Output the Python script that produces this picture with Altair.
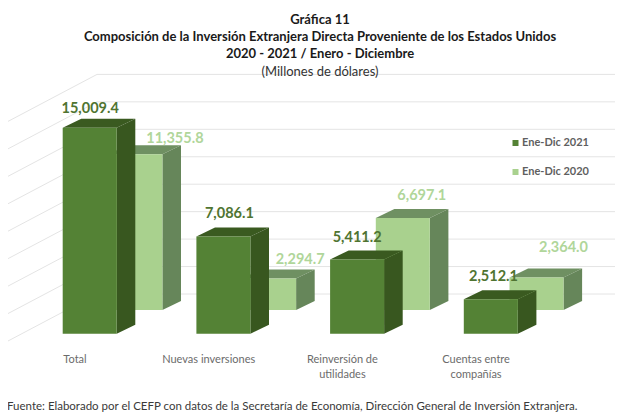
import altair as alt
import pandas as pd

# ---------- data ----------
categories = ["Total", "Nuevas inversiones", "Reinversión de\nutilidades", "Cuentas entre\ncompañías"]
values_2021 = [15009.4, 7086.1, 5411.2, 2512.1]
values_2020 = [11355.8, 2294.7, 6697.1, 2364.0]
series_names = ["Ene-Dic 2021", "Ene-Dic 2020"]
grid_values = [0, 2000, 4000, 6000, 8000, 10000, 12000, 14000, 16000]

title_lines = [
    "Gráfica 11",
    "Composición de la Inversión Extranjera Directa Proveniente de los Estados Unidos",
    "2020 - 2021 / Enero - Diciembre",
]
subtitle_line = "(Millones de dólares)"
footer = "Fuente: Elaborado por el CEFP con datos de la Secretaría de Economía, Dirección General de Inversión Extranjera."

# ---------- layout ----------
W, H, PAD_TOP = 607, 338, 66
PX_PER_STEP = 133.7
PX_PER_VAL = 0.013725
X0_PX = 54.7          # left edge of first dark bar, in canvas px
Y0_PX = 259.7         # baseline of the dark bars, in plot px


def ux(px):
    return px / PX_PER_STEP


def uy(px):
    return px / PX_PER_VAL


x_scale = alt.Scale(domain=[-ux(X0_PX), ux(W - X0_PX)], nice=False, zero=False)
y_scale = alt.Scale(domain=[-uy(H - Y0_PX), uy(Y0_PX)], nice=False, zero=False)
X = lambda f: alt.X(f, type="quantitative", scale=x_scale, axis=None)
Y = lambda f: alt.Y(f, type="quantitative", scale=y_scale, axis=None)

BAR_W = ux(54)
DEPTH_X, DEPTH_Y = ux(18.6), uy(9)
ROW_X, ROW_Y = ux(45.7), uy(23.7)
WALL_X, WALL_Y = ux(34.3), uy(39.7)
SIDE_X, SIDE_Y = -ux(54.7), -uy(7.3)

# label offsets from the bar's front-top-left corner, px
label_nudge_2021 = [(27.5, 19), (33, 22.5), (27, 21), (29.7, 22)]
label_nudge_2020 = [(66.5, 15), (58, 19), (46, 22), (54, 30)]

C_DARK, C_DARK_SIDE, C_DARK_TOP = "#548235", "#38571f", "#3a5a20"
C_LIGHT, C_LIGHT_SIDE, C_LIGHT_TOP = "#a9d18e", "#66865a", "#6f9062"
C_GRID = "#e4e4e4"
C_TEXT = "#6b6b6b"
FONT = "Lato"

# ---------- geometry tables ----------
front, side, top, labels = [], [], [], []
for s, vals, nudges, shift_x, shift_y in [
    (series_names[0], values_2021, label_nudge_2021, 0, 0),
    (series_names[1], values_2020, label_nudge_2020, ROW_X, ROW_Y),
]:
    for i, v in enumerate(vals):
        l = i + shift_x
        r = l + BAR_W
        b = shift_y
        t = v + shift_y
        key = f"{s}-{i}"
        front.append({"s": s, "l": l, "r": r, "b": b, "t": t})
        side += [
            {"s": s, "k": key, "x": r, "y": t, "y2": b},
            {"s": s, "k": key, "x": r + DEPTH_X, "y": t + DEPTH_Y, "y2": b + DEPTH_Y},
        ]
        top += [
            {"s": s, "k": key, "x": l, "y": t, "y2": t},
            {"s": s, "k": key, "x": l + DEPTH_X, "y": t + DEPTH_Y, "y2": t},
            {"s": s, "k": key, "x": r, "y": t + DEPTH_Y, "y2": t},
            {"s": s, "k": key, "x": r + DEPTH_X, "y": t + DEPTH_Y, "y2": t + DEPTH_Y},
        ]
        labels.append({"s": s, "txt": f"{v:,.1f}", "x": l + ux(nudges[i][0]), "y": t + uy(nudges[i][1])})

front, side, top, labels = map(pd.DataFrame, (front, side, top, labels))

grid_h, grid_s = [], []
for g in grid_values:
    grid_h.append({"x": WALL_X, "x2": ux(W - X0_PX), "y": g + WALL_Y})
    grid_s += [
        {"k": g, "x": SIDE_X, "y": g + SIDE_Y},
        {"k": g, "x": WALL_X, "y": g + WALL_Y},
    ]
grid_h, grid_s = pd.DataFrame(grid_h), pd.DataFrame(grid_s)
cats = pd.DataFrame({"c": categories, "x": [i + ux(12.3) for i in range(len(categories))]})

# ---------- layers ----------
wall_h = alt.Chart(grid_h).mark_rule(color=C_GRID, strokeWidth=1).encode(x=X("x"), x2="x2", y=Y("y"))
wall_s = alt.Chart(grid_s).mark_line(color=C_GRID, strokeWidth=1).encode(x=X("x"), y=Y("y"), detail="k:N")


def area_layer(df, series, colour):
    return (
        alt.Chart(df[df.s == series])
        .mark_area(color=colour, interpolate="linear")
        .encode(x=X("x"), y=Y("y"), y2="y2", detail="k:N")
    )


color_enc = alt.Color(
    "s:N",
    scale=alt.Scale(domain=series_names, range=[C_DARK, C_LIGHT]),
    legend=alt.Legend(
        title=None,
        orient="none",
        legendX=502,
        legendY=63.5,
        symbolType="square",
        symbolSize=36,
        symbolStrokeWidth=0,
        labelFont=FONT,
        labelFontSize=11,
        labelFontWeight="bold",
        labelColor="#5f5f5f",
        rowPadding=17,
        labelOffset=1,
    ),
)


def bar_layer(series):
    return (
        alt.Chart(front[front.s == series])
        .mark_bar()
        .encode(x=X("l"), x2="r", y=Y("b"), y2="t", color=color_enc)
    )


def label_layer(series, colour):
    return (
        alt.Chart(labels[labels.s == series])
        .mark_text(font=FONT, fontSize=14.5, fontWeight="bold", color=colour, align="center", baseline="middle")
        .encode(x=X("x"), y=Y("y"), text="txt:N")
    )


cat_text = (
    alt.Chart(cats)
    .mark_text(font=FONT, fontSize=11, color=C_TEXT, align="center", baseline="top", lineBreak="\n", lineHeight=15)
    .encode(x=X("x"), y=alt.value(280), text="c:N")
)
foot_text = (
    alt.Chart(pd.DataFrame({"t": [footer]}))
    .mark_text(font=FONT, fontSize=11.5, color="#3a3a3a", align="left", baseline="middle")
    .encode(x=alt.value(-1), y=alt.value(333), text="t:N")
)

chart = (
    alt.layer(
        wall_h,
        wall_s,
        area_layer(top, series_names[1], C_LIGHT_TOP),
        area_layer(side, series_names[1], C_LIGHT_SIDE),
        bar_layer(series_names[1]),
        area_layer(top, series_names[0], C_DARK_TOP),
        area_layer(side, series_names[0], C_DARK_SIDE),
        bar_layer(series_names[0]),
        label_layer(series_names[1], "#b0d69a"),
        label_layer(series_names[0], "#4f7431"),
        cat_text,
        foot_text,
    )
    .properties(
        width=W,
        height=H,
        padding={"left": 0, "right": 0, "top": PAD_TOP, "bottom": 0},
        autosize=alt.AutoSizeParams(type="none"),
        title=alt.TitleParams(
            text=title_lines,
            subtitle=subtitle_line,
            anchor="middle",
            font=FONT,
            fontSize=13,
            fontWeight="bold",
            color="#1a1a1a",
            lineHeight=17,
            dx=8.5,
            subtitleFont=FONT,
            subtitleFontSize=13,
            subtitleColor="#333333",
            subtitlePadding=5,
            offset=-7,
        ),
    )
    .configure_view(stroke=None)
)

chart.save("out.html", embed_options={"renderer": "svg", "actions": False})
